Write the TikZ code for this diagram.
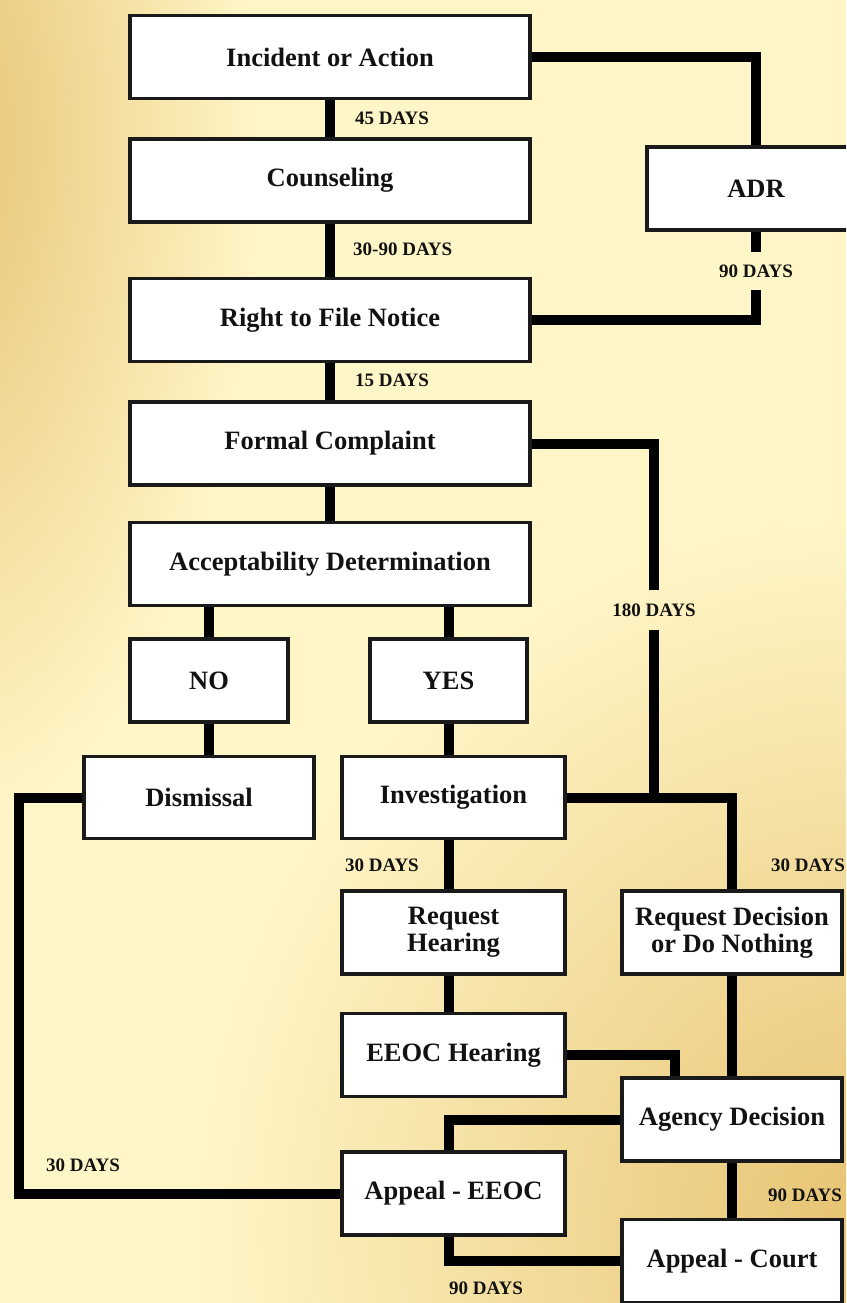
\documentclass[tikz,border=0pt]{standalone}
\usepackage{fontspec}
\setmainfont{Liberation Serif}
\definecolor{bg}{HTML}{FFF6C8}
\definecolor{gold}{HTML}{E6C270}
\definecolor{boxline}{HTML}{1A1A1A}
\definecolor{txt}{HTML}{121212}
\newcommand\bxfont{\fontsize{26.5}{27}\selectfont\bfseries}
\newcommand\lbfont{\fontsize{19}{20}\selectfont\bfseries}
\begin{document}
\begin{tikzpicture}[x=1pt,y=-1pt,
  box/.style={draw=boxline, line width=3.5pt, fill=white, inner sep=0pt, align=center, font=\bxfont, text=txt},
  mainbox/.style={box, minimum width=400pt, minimum height=83pt},
  midbox/.style={box, minimum width=223pt, minimum height=83pt},
  rightbox/.style={box, minimum width=220pt, minimum height=83pt},
  conn/.style={line width=10pt, draw=black, line join=miter},
  lab/.style={font=\lbfont, text=txt, inner sep=0pt}]
\useasboundingbox (0,0) rectangle (846,1303);
\clip (0,0) rectangle (846,1303);
% background
\fill[bg] (0,0) rectangle (846,1303);
\shade[inner color=gold, outer color=bg] (-60,140) ellipse [x radius=320pt, y radius=700pt];
\shade[inner color=gold, outer color=bg] (870,1230) ellipse [x radius=680pt, y radius=720pt];
% boxes
\node[mainbox] (inc) at (330,57) {Incident or Action};
\node[mainbox] (cou) at (330,180.5) {Counseling};
\node[mainbox] (rtf) at (330,320) {Right to File Notice};
\node[mainbox] (fc) at (330,443.5) {Formal Complaint};
\node[mainbox] (acc) at (330,564) {Acceptability Determination};
\node[box, minimum width=218pt, minimum height=83pt] (adr) at (756,188.5) {ADR};
\node[box, minimum width=158pt, minimum height=83pt] (no) at (209,680.5) {NO};
\node[box, minimum width=157pt, minimum height=83pt] (yes) at (448.5,680.5) {YES};
\node[box, minimum width=230pt, minimum height=82pt] (dis) at (199,797.5) {Dismissal};
\node[midbox, minimum height=82pt] (inv) at (453.5,797.5) {Investigation};
\node[midbox] (rh) at (453.5,932.5) {Request\\Hearing};
\node[rightbox] (rd) at (732,932.5) {Request Decision\\or Do Nothing};
\node[midbox] (eh) at (453.5,1055) {EEOC Hearing};
\node[rightbox] (ad) at (732,1119.5) {Agency Decision};
\node[midbox] (ae) at (453.5,1193.5) {Appeal - EEOC};
\node[rightbox] (ac) at (732,1261) {Appeal - Court};
\coordinate (j180) at (654,797.5);
\coordinate (g180a) at (654,590);
\coordinate (g180b) at (654,630);
\coordinate (gadra) at (756,252);
\coordinate (gadrb) at (756,290);
% connectors
\draw[conn] (inc) -- (cou);
\draw[conn] (cou) -- (rtf);
\draw[conn] (rtf) -- (fc);
\draw[conn] (fc) -- (acc);
\draw[conn] (inc.east) -| (adr.north);
\draw[conn] (adr.south) -- (gadra);
\draw[conn] (gadrb) |- (rtf.east);
\draw[conn] (no.north |- acc.south) -- (no.north);
\draw[conn] (yes.north |- acc.south) -- (yes.north);
\draw[conn] (no.south) -- (no.south |- dis.north);
\draw[conn] (yes.south) -- (yes.south |- inv.north);
\draw[conn] (fc.east) -| (g180a);
\draw[conn] (g180b) -- (j180);
\draw[conn] (inv.east) -| (rd.north);
\draw[conn] ([xshift=-5pt]inv.south) -- ([xshift=-5pt]rh.north);
\draw[conn] ([xshift=-5pt]rh.south) -- ([xshift=-5pt]eh.north);
\draw[conn] (rd) -- (ad);
\draw[conn] (eh.east) -| ([xshift=-57pt]ad.north);
\draw[conn] (ad.west) -| ([xshift=-5pt]ae.north);
\draw[conn] (ad) -- (ac);
\draw[conn] (dis.west) -- ++(-63,0) |- (ae.west);
\draw[conn] ([xshift=-5pt]ae.south) |- (ac.west);
% labels
\node[lab, anchor=west] (l45) at (355,118) {45 DAYS};
\node[lab, anchor=west] (l3090) at (353,249) {30-90 DAYS};
\node[lab, anchor=west] (l15) at (355,380) {15 DAYS};
\node[lab] (l90adr) at (756,271) {90 DAYS};
\node[lab] (l180) at (654,610) {180 DAYS};
\node[lab, anchor=east] (l30a) at (419,865) {30 DAYS};
\node[lab, anchor=west] (l30b) at (771,865) {30 DAYS};
\node[lab, anchor=west] (l90b) at (768,1195) {90 DAYS};
\node[lab, anchor=west] (l30c) at (46,1165) {30 DAYS};
\node[lab, anchor=west] (l90c) at (449,1288) {90 DAYS};
\end{tikzpicture}
\end{document}
